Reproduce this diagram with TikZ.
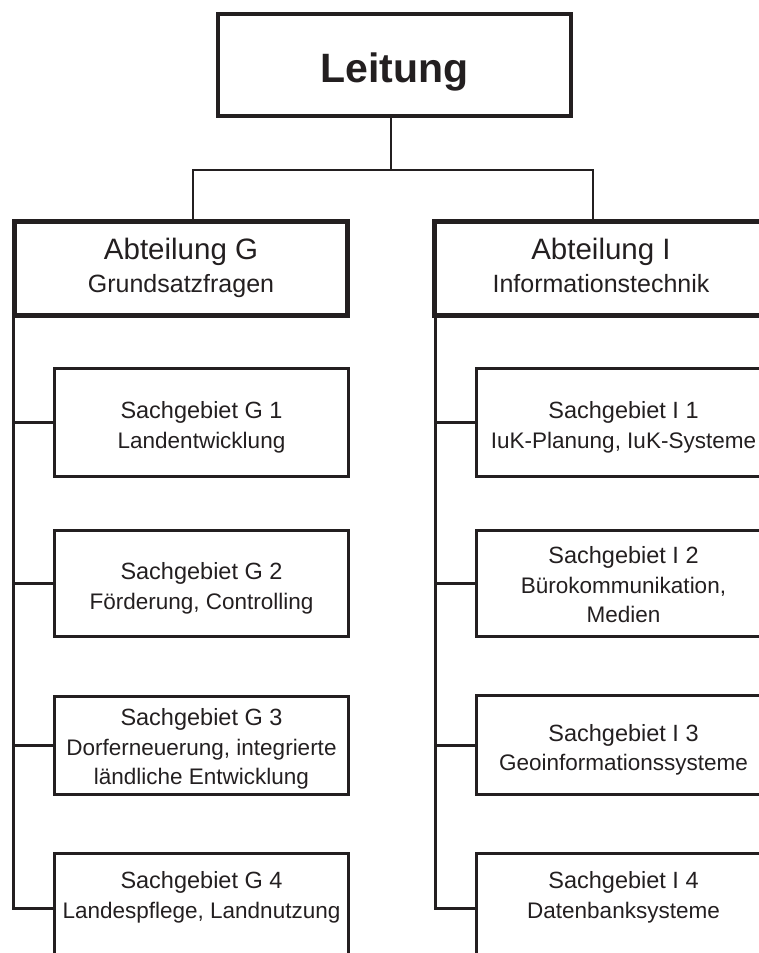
\documentclass[tikz,border=0pt]{standalone}
\usepackage{fontspec}
\setmainfont{Liberation Sans}
\definecolor{ink}{RGB}{35,31,32}
\newcommand{\headA}[1]{{\fontsize{29.5}{33}\selectfont #1}}
\newcommand{\headU}[1]{{\fontsize{23.5}{29.5}\selectfont #1}}
\begin{document}
\begin{tikzpicture}[x=1pt,y=-1pt,
  boxbase/.style={draw=ink, text=ink, inner sep=0pt, outer sep=0pt, align=center, text depth=0pt},
  topbox/.style={boxbase, line width=4.6pt, minimum width=353pt, minimum height=102pt, text height=34pt, font=\fontsize{41}{41}\selectfont\bfseries},
  deptbox/.style={boxbase, line width=5pt, minimum width=333pt, minimum height=94pt, text height=47pt, font=\fontsize{25}{33}\selectfont},
  unitbox/.style={boxbase, line width=3.2pt, minimum width=294pt, font=\fontsize{22.5}{29.5}\selectfont},
  twoline/.style={text height=51pt},
  threeline/.style={text height=78pt},
  link/.style={draw=ink, line width=1.8pt},
  spine/.style={draw=ink, line width=3pt}]
\useasboundingbox (0,0) rectangle (759,953);
\clip (0,0) rectangle (759,953);

% top
\node[topbox] (L) at (394.5,65) {Leitung};

% departments
\node[deptbox] (AG) at (181,268.5) {\headA{Abteilung G}\\Grundsatzfragen};
\node[deptbox] (AI) at (601,268.5) {\headA{Abteilung I}\\Informationstechnik};

% units G
\node[unitbox, twoline, minimum height=108pt] (G1) at (201.5,422.5) {\headU{Sachgebiet G 1}\\Landentwicklung};
\node[unitbox, twoline, minimum height=106pt] (G2) at (201.5,583.5) {\headU{Sachgebiet G 2}\\Förderung, Controlling};
\node[unitbox, threeline, minimum height=98pt] (G3) at (201.5,745.5) {\headU{Sachgebiet G 3}\\Dorferneuerung, integrierte\\ländliche Entwicklung};
\node[unitbox, text height=19pt, minimum height=110pt] (G4) at (201.5,908.5) {\headU{Sachgebiet G 4}\\Landespflege, Landnutzung};

% units I
\node[unitbox, twoline, minimum height=108pt] (I1) at (623.5,422.5) {\headU{Sachgebiet I 1}\\IuK-Planung, IuK-Systeme};
\node[unitbox, threeline, minimum height=106pt] (I2) at (623.5,583.5) {\headU{Sachgebiet I 2}\\Bürokommunikation,\\Medien};
\node[unitbox, twoline, minimum height=99pt] (I3) at (623.5,745) {\headU{Sachgebiet I 3}\\Geoinformationssysteme};
\node[unitbox, text height=19pt, minimum height=110pt] (I4) at (623.5,908.5) {\headU{Sachgebiet I 4}\\Datenbanksysteme};

% connectors top
\coordinate (jT) at (391,170);
\coordinate (jG) at (193,170);
\coordinate (jI) at (593,170);
\draw[link] (L.south -| jT) -- (jT);
\draw[link] (AG.north -| jG) -- (jG) -- (jI) -- (AI.north -| jI);

% spines
\coordinate (sG) at (13,908.5);
\coordinate (sI) at (435,908.5);
\draw[spine] (AG.south -| sG) -- (sG) -- (G4.west);
\draw[spine] (AI.south -| sI) -- (sI) -- (I4.west);
\foreach \n in {G1,G2,G3} \draw[spine] (sG |- \n.west) -- (\n.west);
\foreach \n in {I1,I2,I3} \draw[spine] (sI |- \n.west) -- (\n.west);
\end{tikzpicture}
\end{document}
